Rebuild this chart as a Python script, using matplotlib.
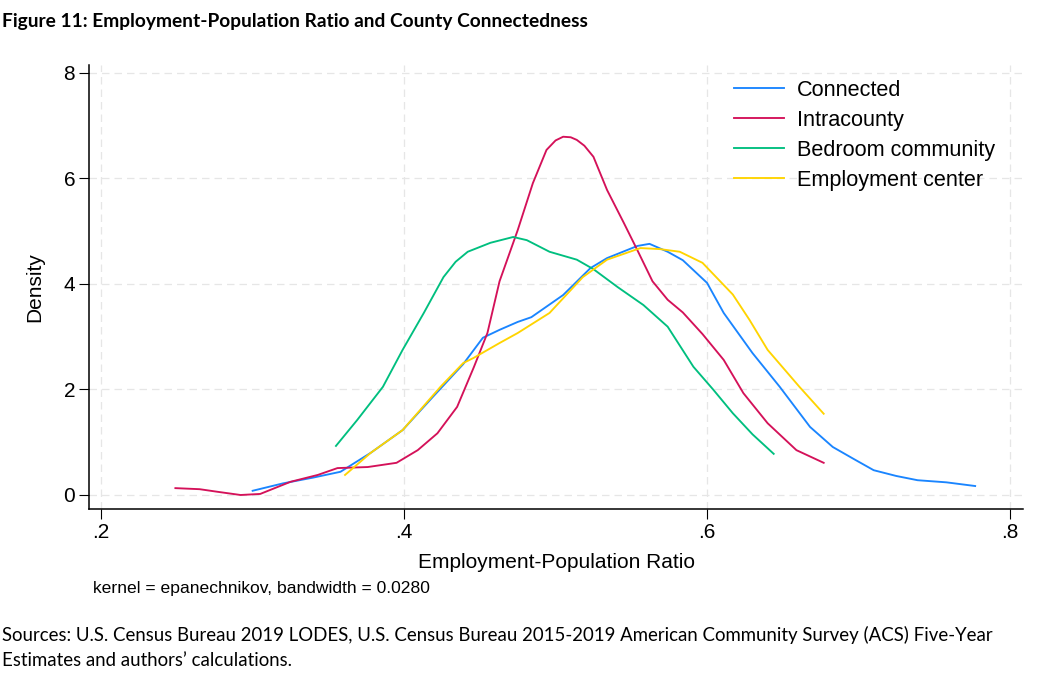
import matplotlib
matplotlib.use("Agg")
from matplotlib import pyplot as plt

# values (employment-population ratio, density)
connected_x = [0.300, 0.320, 0.340, 0.358, 0.378, 0.399, 0.419, 0.439, 0.452, 0.463, 0.475, 0.484,
               0.505, 0.523, 0.534, 0.554, 0.562, 0.574, 0.584, 0.600, 0.611, 0.630, 0.648, 0.668,
               0.683, 0.697, 0.710, 0.725, 0.739, 0.758, 0.777]
connected_y = [0.08, 0.22, 0.33, 0.44, 0.80, 1.23, 1.86, 2.48, 2.98, 3.13, 3.28, 3.37,
               3.79, 4.30, 4.49, 4.72, 4.76, 4.61, 4.45, 4.02, 3.45, 2.69, 2.05, 1.29,
               0.91, 0.68, 0.47, 0.36, 0.28, 0.24, 0.17]

intra_x = [0.249, 0.265, 0.277, 0.292, 0.305, 0.325, 0.343, 0.356, 0.376, 0.395, 0.409, 0.422,
           0.435, 0.446, 0.455, 0.463, 0.475, 0.485, 0.494, 0.500, 0.505, 0.510, 0.514, 0.519,
           0.525, 0.534, 0.545, 0.554, 0.564, 0.574, 0.584, 0.597, 0.611, 0.624, 0.640, 0.659, 0.677]
intra_y = [0.13, 0.11, 0.06, 0.00, 0.02, 0.25, 0.38, 0.51, 0.53, 0.61, 0.85, 1.17,
           1.67, 2.42, 3.07, 4.05, 5.02, 5.91, 6.54, 6.72, 6.79, 6.78, 6.73, 6.62,
           6.41, 5.78, 5.16, 4.64, 4.05, 3.70, 3.46, 3.05, 2.56, 1.93, 1.36, 0.85, 0.61]

bedroom_x = [0.355, 0.369, 0.386, 0.399, 0.413, 0.426, 0.434, 0.442, 0.457, 0.472, 0.481, 0.496, 0.514,
             0.525, 0.541, 0.558, 0.574, 0.591, 0.604, 0.617, 0.630, 0.644]
bedroom_y = [0.93, 1.42, 2.05, 2.75, 3.45, 4.13, 4.42, 4.61, 4.78, 4.89, 4.83, 4.61, 4.46,
             4.28, 3.94, 3.60, 3.19, 2.43, 2.00, 1.55, 1.15, 0.78]

center_x = [0.361, 0.378, 0.399, 0.424, 0.439, 0.446, 0.463, 0.475, 0.496, 0.518, 0.534, 0.556,
            0.569, 0.582, 0.597, 0.617, 0.628, 0.640, 0.661, 0.677]
center_y = [0.38, 0.80, 1.23, 2.05, 2.50, 2.60, 2.88, 3.07, 3.45, 4.13, 4.46, 4.68,
            4.66, 4.61, 4.40, 3.80, 3.32, 2.75, 2.05, 1.54]

series = [("Connected", connected_x, connected_y, "#1A85FF"),
          ("Intracounty", intra_x, intra_y, "#D41159"),
          ("Bedroom community", bedroom_x, bedroom_y, "#00BF7F"),
          ("Employment center", center_x, center_y, "#FFD400")]

x_ticks = [0.2, 0.4, 0.6, 0.8]
x_labels = [".2", ".4", ".6", ".8"]
y_ticks = [0, 2, 4, 6, 8]

plt.rcParams['font.family'] = ['Liberation Sans', 'DejaVu Sans']

fig = plt.figure(figsize=(10.44, 6.79), dpi=100)
ax = fig.add_axes([0.0853, 0.2504, 0.8946, 0.6539])

for name, xs, ys, col in series:
    ax.plot(xs, ys, color=col, lw=1.35, label=name)

ax.set_xlim(0.192, 0.8086)
ax.set_ylim(-0.265, 8.15)
ax.set_xticks(x_ticks)
ax.set_xticklabels(x_labels)
ax.set_yticks(y_ticks)
ax.tick_params(labelsize=15, length=7, width=0.8, color='black', pad=3)

ax.grid(True, color='#e6e6e6', linestyle=(0, (6, 4)), lw=0.9)
ax.set_axisbelow(True)
for s in ['top', 'right']:
    ax.spines[s].set_visible(False)
for s in ['left', 'bottom']:
    ax.spines[s].set_linewidth(1.1)

ax.set_xlabel("Employment-Population Ratio", fontsize=15, labelpad=8)
ax.set_ylabel("Density", fontsize=15, labelpad=14)

leg = ax.legend(loc='upper right', bbox_to_anchor=(0.991, 1.01), frameon=False, fontsize=15.6,
                handlelength=2.3, handletextpad=0.62, labelspacing=0.41)

fig.text(0.089, 1 - 589 / 679, "kernel = epanechnikov, bandwidth = 0.0280", fontsize=12.6, va='center')

fig.text(0.002, 1 - 21 / 679, "Figure 11: Employment-Population Ratio and County Connectedness",
         fontsize=13.8, fontweight='bold', family=['Lato', 'DejaVu Sans'], va='center')
fig.text(0.002, 1 - 635 / 679,
         "Sources: U.S. Census Bureau 2019 LODES, U.S. Census Bureau 2015-2019 American Community Survey (ACS) Five-Year",
         fontsize=13.4, family=['Lato', 'DejaVu Sans'], va='center')
fig.text(0.002, 1 - 660 / 679, "Estimates and authors\u2019 calculations.",
         fontsize=13.4, family=['Lato', 'DejaVu Sans'], va='center')

fig.savefig("out.png", dpi=100)
